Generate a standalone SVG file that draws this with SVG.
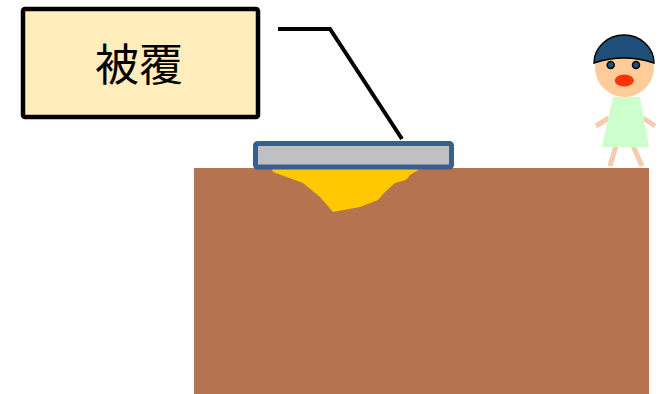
<svg xmlns="http://www.w3.org/2000/svg" width="660" height="394" viewBox="0 0 660 394">
  <style>
    .label-box { fill: #FFEEBB; stroke: #000; stroke-width: 4.5; }
    .label-text { font-family: "Noto Sans CJK JP", "Noto Sans CJK SC", sans-serif; font-size: 44px; fill: #000; }
    .leader { fill: none; stroke: #000; stroke-width: 4; stroke-linejoin: miter; }
    .skin { fill: #FFCC99; }
    .limb { stroke: #F8CBAD; stroke-width: 5; stroke-linecap: butt; }
  </style>

  <!-- ground cross-section -->
  <g id="ground">
    <rect x="194" y="168" width="455" height="226" fill="#B57350"/>
    <polygon fill="#FFC800" points="272,169 420,169 410,175 406,180 395,183 385,192 378,200 360,207 333,212 320,197 303,183 273,172"/>
  </g>

  <!-- covering plate -->
  <g id="plate">
    <rect x="255.5" y="143.5" width="196" height="23.5" rx="2" fill="#C0C0C0" stroke="#3A5F8F" stroke-width="5"/>
  </g>

  <!-- callout label -->
  <g id="label">
    <rect class="label-box" x="23" y="9" width="235" height="108" rx="2"/>
    <text class="label-text" x="139" y="81" text-anchor="middle">被覆</text>
  </g>

  <!-- leader line -->
  <g id="connectors">
    <polyline class="leader" points="278,29 330,29 402,139"/>
  </g>

  <!-- child figure -->
  <g id="child">
    <line class="limb" x1="616" y1="146" x2="610" y2="166"/>
    <line class="limb" x1="633" y1="146" x2="642" y2="166"/>
    <line class="limb" x1="596" y1="126" x2="609" y2="118"/>
    <line class="limb" x1="643" y1="118" x2="655" y2="126"/>
    <polygon fill="#CCFFCC" points="613,97 640,97 649,147 602,147"/>
    <circle class="skin" cx="624.5" cy="67.5" r="29.5"/>
    <path d="M594,63 A30,28 0 0 1 654,63 Q624,53 594,63 Z" fill="#1F4E79" stroke="#000" stroke-width="1.5"/>
    <circle cx="610.7" cy="65" r="3.5" fill="#1F4E79" stroke="#000" stroke-width="1.5"/>
    <circle cx="636" cy="65" r="3.5" fill="#1F4E79" stroke="#000" stroke-width="1.5"/>
    <ellipse cx="624.3" cy="80.5" rx="9.5" ry="6" fill="#FF3300"/>
  </g>
</svg>
